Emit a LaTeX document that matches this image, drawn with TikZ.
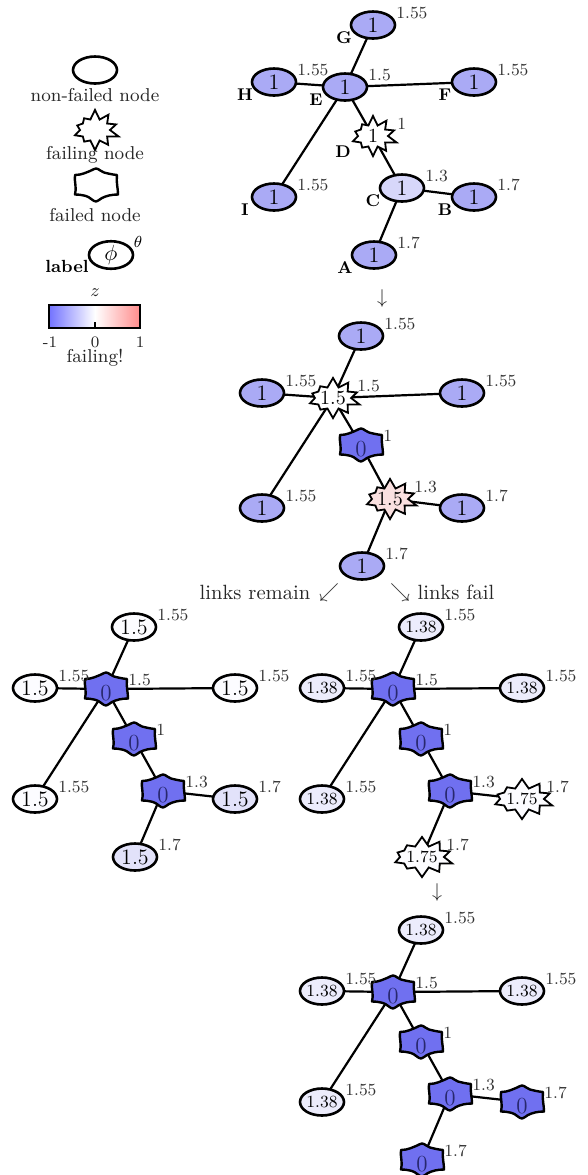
\documentclass[tikz,border=0pt]{standalone}
\usetikzlibrary{shapes.geometric,shapes.symbols}
\pgfdeclarelayer{background}
\pgfdeclarelayer{paper}
\pgfsetlayers{paper,background,main}
\definecolor{nb}{RGB}{170,170,245}
\definecolor{nc}{RGB}{215,215,250}
\definecolor{fb}{RGB}{112,112,240}
\definecolor{pk}{RGB}{250,224,224}
\definecolor{lb}{RGB}{226,226,250}
\definecolor{vb}{RGB}{236,236,252}
\definecolor{wb}{RGB}{252,252,255}
\definecolor{ftx}{RGB}{40,40,110}
\tikzset{
  every node/.style={inner sep=0pt},
  okn/.style={ellipse, draw, line width=1.3pt, minimum width=22pt, minimum height=13.5pt, font=\fontsize{11}{11}\selectfont},
  burst/.style={starburst, draw, line width=0.9pt, starburst points=10, starburst point height=5pt, random starburst=7, minimum width=25pt, minimum height=21pt, font=\fontsize{10}{10}\selectfont},
  failp/.style={draw, line width=1.2pt, fill=fb, line join=round},
  ftxt/.style={font=\fontsize{11.5}{11.5}\selectfont, text=ftx},
  th/.style={anchor=west, font=\fontsize{8.5}{8.5}\selectfont, text=black!80},
  lett/.style={font=\fontsize{8.5}{8.5}\selectfont\bfseries},
  lgd/.style={font=\fontsize{9.3}{9.3}\selectfont, text=black!85},
  brn/.style={font=\fontsize{10.3}{10.3}\selectfont, text=black!85},
  edge/.style={line width=1.1pt},
  small/.style={font=\fontsize{8}{8}\selectfont}
}
\newcommand{\okn}[6]{\node[okn,#2] (#1) at (#3,#4) {#5};
  \node[th] (#1t) at ({#3+23},{#4-12}) {#6};}
\newcommand{\brn}[6]{\node[burst,#2] (#1) at (#3,#4) {#5};
  \node[th] (#1t) at ({#3+24},{#4-12}) {#6};}
\newcommand{\failpath}{(-21,-10) .. controls (-14,-10) and (-9,-13) .. (-6,-14) .. controls (-3,-15.5) and (-1,-16.5) .. (0,-16.5) .. controls (3,-16.5) and (5,-13) .. (8,-12.5) .. controls (12,-11.5) and (16,-10.5) .. (21,-10) .. controls (20,-3) and (22,3) .. (22,9.5) .. controls (15,9.5) and (10,11) .. (6,13) .. controls (3,15) and (1,16.5) .. (0,16.5) .. controls (-3,16.5) and (-6,12) .. (-10,11) .. controls (-14,10) and (-17,9.5) .. (-21,9.5) .. controls (-19,3) and (-22,-4) .. cycle}
\newcommand{\fln}[5]{\draw[failp, shift={(#2,#3)}] \failpath;
  \coordinate (#1) at (#2,#3);
  \node[ftxt] (#1x) at (#2,{#3+4}) {#4};
  \node[th] (#1t) at ({#2+22},{#3-9}) {#5};}
\newcommand{\netedges}[1]{\begin{pgfonlayer}{background}
  \draw[edge] (#1E.center) -- (#1G.center) (#1E.center) -- (#1H.center)
    (#1E.center) -- (#1F.center) (#1E.center) -- (#1I.center)
    (#1E.center) -- (#1D.center) -- (#1C.center) -- (#1B.center)
    (#1C.center) -- (#1A.center);
  \end{pgfonlayer}}
\begin{document}
\begin{tikzpicture}[x=0.5pt,y=-0.5pt]
\useasboundingbox (0,0) rectangle (588,1175);
\begin{pgfonlayer}{paper}
\fill[white] (0,0) rectangle (588,1175);
\end{pgfonlayer}
% ---------------- legend
\node[okn, fill=white] (L1) at (95,70) {};
\node[lgd] (L1t) at (95,95) {non-failed node};
\node[burst, fill=white] (L2) at (95,130) {};
\node[lgd] (L2t) at (95,155) {failing node};
\draw[failp, fill=white, shift={(96,185)}] \failpath;
\coordinate (L3) at (96,185);
\node[lgd] (L3t) at (95,215) {failed node};
\node[okn, fill=white] (L4) at (111,255) {$\phi$};
\node[font=\fontsize{8.5}{8.5}\selectfont] (L4th) at (138,242) {$\theta$};
\node[lett, font=\fontsize{8.8}{8.8}\selectfont\bfseries] (L4l) at (67,266) {label};
\node[lgd] (Lz) at (95,293) {$z$};
\shade[left color=blue!55!white, right color=white] (49,305) rectangle (95,328);
\shade[left color=white, right color=red!45!white] (95,305) rectangle (140,328);
\draw[line width=0.8pt] (49,305) rectangle (140,328);
\draw[line width=0.8pt] (95,328) -- (95,322);
\node[lgd, small] (Lm1) at (50,342) {-1};
\node[lgd, small] (L0) at (95,342) {0};
\node[lgd, small] (Lp1) at (140,342) {1};
\node[lgd] (Lf) at (95,358) {failing!};
% ---------------- graph 1
\begin{scope}[shift={(345,87)}]
\okn{aE}{fill=nb}{0}{0}{1}{1.5}
\okn{aG}{fill=nb}{28}{-62}{1}{1.55}
\okn{aH}{fill=nb}{-71}{-5}{1}{1.55}
\okn{aF}{fill=nb}{129}{-5}{1}{1.55}
\brn{aD}{fill=white}{28}{49}{1}{1}
\okn{aC}{fill=nc}{57}{101}{1}{1.3}
\okn{aB}{fill=nb}{129}{110}{1}{1.7}
\okn{aI}{fill=nb}{-71}{110}{1}{1.55}
\okn{aA}{fill=nb}{29}{168}{1}{1.7}
\netedges{a}
\node[lett] (aGl) at (-1,-49) {G};
\node[lett] (aHl) at (-100,8) {H};
\node[lett] (aEl) at (-29,13) {E};
\node[lett] (aFl) at (100,8) {F};
\node[lett] (aDl) at (-2,65) {D};
\node[lett] (aCl) at (28,114) {C};
\node[lett] (aBl) at (100,123) {B};
\node[lett] (aIl) at (-100,123) {I};
\node[lett] (aAl) at (0,181) {A};
\end{scope}
\node[brn] (arr1) at (382,298) {$\downarrow$};
% ---------------- graph 2
\begin{scope}[shift={(333,398)}]
\brn{bE}{fill=white}{0}{0}{1.5}{1.5}
\okn{bG}{fill=nb}{28}{-62}{1}{1.55}
\okn{bH}{fill=nb}{-71}{-5}{1}{1.55}
\okn{bF}{fill=nb}{129}{-5}{1}{1.55}
\fln{bD}{28}{47}{0}{1}
\brn{bC}{fill=pk}{57}{101}{1.5}{1.3}
\okn{bB}{fill=nb}{129}{110}{1}{1.7}
\okn{bI}{fill=nb}{-71}{110}{1}{1.55}
\okn{bA}{fill=nb}{29}{168}{1}{1.7}
\netedges{b}
\end{scope}
\node[brn] (rem) at (255,592) {links remain};
\node[brn] (arr2) at (329,592) {$\swarrow$};
\node[brn] (arr3) at (400,592) {$\searrow$};
\node[brn] (fail) at (456,592) {links fail};
% ---------------- graph 3
\begin{scope}[shift={(106,689)}]
\fln{cE}{0}{0}{0}{1.5}
\okn{cG}{fill=wb}{28}{-62}{1.5}{1.55}
\okn{cH}{fill=wb}{-71}{-1}{1.5}{1.55}
\okn{cF}{fill=wb}{129}{-1}{1.5}{1.55}
\fln{cD}{28}{50}{0}{1}
\fln{cC}{57}{102}{0}{1.3}
\okn{cB}{fill=lb}{129}{110}{1.5}{1.7}
\okn{cI}{fill=wb}{-71}{110}{1.5}{1.55}
\okn{cA}{fill=lb}{29}{168}{1.5}{1.7}
\netedges{c}
\end{scope}
% ---------------- graph 4
\begin{scope}[shift={(393,689)}]
\fln{dE}{0}{0}{0}{1.5}
\okn{dG}{fill=vb, font=\fontsize{8.5}{8.5}\selectfont}{28}{-62}{1.38}{1.55}
\okn{dH}{fill=vb, font=\fontsize{8.5}{8.5}\selectfont}{-71}{-1}{1.38}{1.55}
\okn{dF}{fill=vb, font=\fontsize{8.5}{8.5}\selectfont}{129}{-1}{1.38}{1.55}
\fln{dD}{28}{50}{0}{1}
\fln{dC}{57}{102}{0}{1.3}
\brn{dB}{fill=wb, font=\fontsize{8.5}{8.5}\selectfont}{129}{110}{1.75}{1.7}
\okn{dI}{fill=vb, font=\fontsize{8.5}{8.5}\selectfont}{-71}{110}{1.38}{1.55}
\brn{dA}{fill=wb, font=\fontsize{8.5}{8.5}\selectfont}{29}{168}{1.75}{1.7}
\netedges{d}
\end{scope}
\node[brn] (arr4) at (437,892) {$\downarrow$};
% ---------------- graph 5
\begin{scope}[shift={(393,992)}]
\fln{eE}{0}{0}{0}{1.5}
\okn{eG}{fill=vb, font=\fontsize{8.5}{8.5}\selectfont}{28}{-62}{1.38}{1.55}
\okn{eH}{fill=vb, font=\fontsize{8.5}{8.5}\selectfont}{-71}{-1}{1.38}{1.55}
\okn{eF}{fill=vb, font=\fontsize{8.5}{8.5}\selectfont}{129}{-1}{1.38}{1.55}
\fln{eD}{28}{50}{0}{1}
\fln{eC}{57}{102}{0}{1.3}
\fln{eB}{129}{110}{0}{1.7}
\okn{eI}{fill=vb, font=\fontsize{8.5}{8.5}\selectfont}{-71}{110}{1.38}{1.55}
\fln{eA}{29}{168}{0}{1.7}
\netedges{e}
\end{scope}
\end{tikzpicture}
\end{document}
